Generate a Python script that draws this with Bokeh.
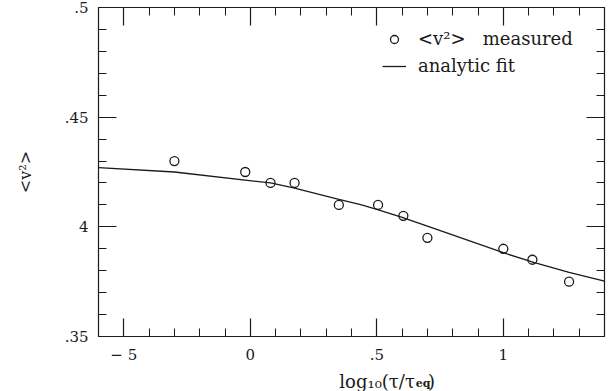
import math

from bokeh.plotting import figure
from bokeh.layouts import column
from bokeh.models import Range1d, LinearAxis, FixedTicker, Legend, LegendItem
from bokeh.core.properties import value
from bokeh.embed import file_html
from bokeh.resources import INLINE

# measured mean square velocity vs. log10 of the waiting time
log_tau = [-0.30, -0.02, 0.08, 0.175, 0.35, 0.505, 0.605, 0.70, 1.00, 1.115, 1.26]
v2_measured = [0.430, 0.425, 0.420, 0.420, 0.410, 0.410, 0.405, 0.395, 0.390, 0.385, 0.375]

# analytic fit curve
fit_log_tau = [-0.6, -0.3, 0.08, 0.175, 0.35, 0.44, 0.5, 0.6, 0.7, 1.0, 1.12, 1.26, 1.4]
fit_v2 = [0.4270, 0.4250, 0.4200, 0.4176, 0.4125, 0.4100, 0.4080, 0.4043, 0.4003,
          0.3882, 0.3838, 0.3792, 0.3752]

# axis ticks and their printed labels
x_major = [-0.5, 0.0, 0.5, 1.0]
x_labels = ["\u2212 5", "0", ".5", "1"]
y_major = [0.35, 0.40, 0.45, 0.50]
y_labels = [".35", "4", ".45", ".5"]
x_minor = [round(-0.6 + 0.1 * i, 2) for i in range(21)]
y_minor = [round(0.35 + 0.01 * i, 3) for i in range(16)]

X0, X1 = -0.6, 1.4
Y0, Y1 = 0.35, 0.50

W = 611
MAIN_H = 366
STRIP_H = 25
BL, BR, BT, BB = 98, 7, 7, 27

SERIF = "DejaVu Serif"
INK = "#1a1a1a"

p = figure(width=W, height=MAIN_H, x_range=Range1d(X0, X1), y_range=Range1d(Y0, Y1),
           output_backend="svg", toolbar_location=None,
           x_axis_location=None, y_axis_location=None,
           min_border_left=BL, min_border_right=BR,
           min_border_top=BT, min_border_bottom=BB)
p.grid.visible = False
p.outline_line_color = None
p.background_fill_color = "white"
p.border_fill_color = "white"


def frame_axis(ticks, minor, labels):
    ax = LinearAxis(ticker=FixedTicker(ticks=ticks, minor_ticks=minor))
    ax.axis_line_color = INK
    ax.axis_line_width = 1.2
    ax.major_tick_line_color = INK
    ax.minor_tick_line_color = INK
    ax.major_tick_line_width = 1.2
    ax.minor_tick_line_width = 1.0
    ax.major_tick_in = 18
    ax.major_tick_out = 0
    ax.minor_tick_in = 8
    ax.minor_tick_out = 0
    if labels is None:
        ax.major_label_text_font_size = "0px"
        ax.major_label_text_color = None
        ax.major_label_standoff = 0
    else:
        ax.major_label_overrides = {t: s for t, s in zip(ticks, labels)}
        ax.major_label_text_font = SERIF
        ax.major_label_text_font_size = "15px"
        ax.major_label_text_color = INK
    return ax


bottom = frame_axis(x_major, x_minor, x_labels)
bottom.major_label_standoff = 9
left = frame_axis(y_major, y_minor, y_labels)
left.major_label_standoff = 10
left.axis_label = "<v\u00b2>"
left.axis_label_text_font = SERIF
left.axis_label_text_font_size = "16px"
left.axis_label_text_font_style = "normal"
left.axis_label_text_color = INK
left.axis_label_standoff = 27
top = frame_axis(x_major, x_minor, None)
right = frame_axis(y_major, y_minor, None)
p.add_layout(bottom, "below")
p.add_layout(left, "left")
p.add_layout(top, "above")
p.add_layout(right, "right")

fit = p.line(fit_log_tau, fit_v2, line_color=INK, line_width=1.3)
pts = p.scatter(log_tau, v2_measured, marker="circle", size=9,
                fill_color=None, line_color=INK, line_width=1.3)

# legend box: bottom-left corner given in pixels from the frame's bottom-left
legend = Legend(items=[LegendItem(label="<v\u00b2>\u00a0\u00a0\u00a0measured", renderers=[pts]),
                       LegendItem(label="analytic fit", renderers=[fit])],
                location=(284, 260), border_line_color=None,
                background_fill_alpha=0, glyph_width=24, glyph_height=20,
                label_height=20, label_standoff=12, spacing=6, padding=0,
                margin=0, label_text_font=SERIF, label_text_font_size="18px",
                label_text_color=INK)
p.add_layout(legend)

# strip under the plot carrying the x-axis title with its subscript
strip = figure(width=W, height=STRIP_H, x_range=Range1d(0, W), y_range=Range1d(0, STRIP_H),
               output_backend="svg", toolbar_location=None,
               x_axis_location=None, y_axis_location=None,
               min_border=0, min_border_left=0, min_border_right=0,
               min_border_top=0, min_border_bottom=0)
strip.grid.visible = False
strip.outline_line_color = None
strip.border_fill_color = "white"
strip.background_fill_color = "white"

strip.text(x=[382], y=[10], text=["log\u2081\u2080(\u03c4/\u03c4"],
           text_font=value(SERIF), text_font_size="18px", text_color=INK,
           text_align="right", text_baseline="alphabetic")
strip.text(x=[383], y=[8], text=["eq"],
           text_font=value(SERIF), text_font_size="11px", text_font_style="bold",
           text_color=INK, text_align="left", text_baseline="alphabetic")
strip.text(x=[398], y=[10], text=[")"],
           text_font=value(SERIF), text_font_size="18px", text_color=INK,
           text_align="left", text_baseline="alphabetic")

layout = column(p, strip, spacing=0)
open("out.html", "w").write(file_html(layout, INLINE))
